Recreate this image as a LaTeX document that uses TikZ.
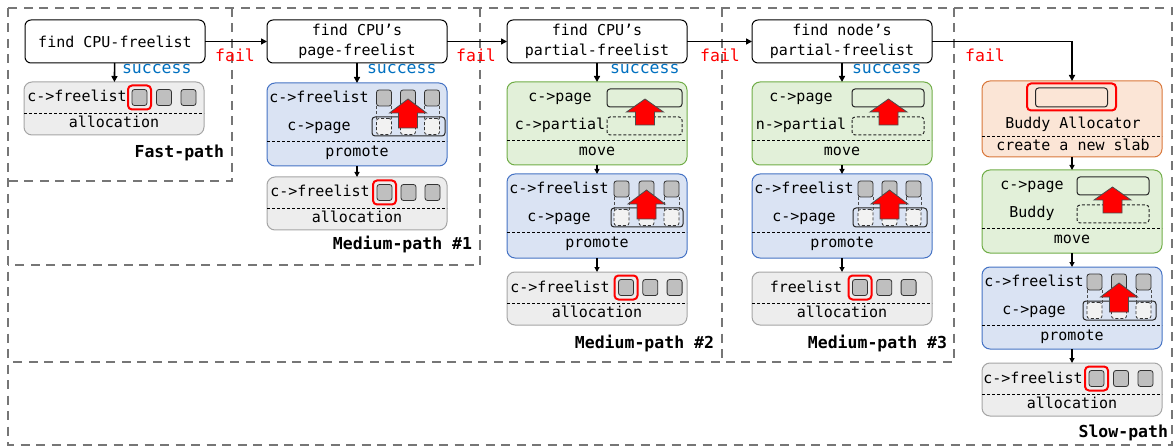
\documentclass[tikz,border=0pt]{standalone}
\usepackage{fontspec}
\usetikzlibrary{arrows.meta}
\newfontfamily\monof{DejaVu Sans Mono}
\newcommand{\mytxt}{\monof\fontsize{15}{20}\selectfont}
\newcommand{\mylbl}{\monof\fontsize{16.5}{20}\selectfont}
\newcommand{\mybold}{\monof\bfseries\fontsize{16.5}{20}\selectfont}
\definecolor{gfill}{HTML}{EDEDED}
\definecolor{gline}{HTML}{A5A5A5}
\definecolor{bfill}{HTML}{DAE3F3}
\definecolor{bline}{HTML}{4472C4}
\definecolor{grfill}{HTML}{E2F0D9}
\definecolor{grline}{HTML}{70AD47}
\definecolor{ofill}{HTML}{FBE5D6}
\definecolor{oline}{HTML}{D9773A}
\definecolor{sqgray}{HTML}{BFBFBF}
\definecolor{sqlight}{HTML}{F2F2F2}
\definecolor{succ}{HTML}{0070C0}
\definecolor{outl}{HTML}{767676}
\tikzset{
 every node/.style={inner sep=0pt, outer sep=0pt, font=\mytxt},
 lab/.style={text height=11pt, text depth=2pt},
 panel/.style={rounded corners=8pt, line width=1pt, anchor=north west, minimum width=180pt},
 graypanel/.style={panel, draw=gline, fill=gfill},
 bluepanel/.style={panel, draw=bline, fill=bfill},
 greenpanel/.style={panel, draw=grline, fill=grfill},
 orangepanel/.style={panel, draw=oline, fill=ofill},
 findbox/.style={panel, draw=black, fill=white, rounded corners=6pt, minimum height=43pt, align=center},
 sepline/.style={dash pattern=on 3pt off 2pt, line width=0.9pt, black},
 sq/.style={draw=black!80, fill=sqgray, rounded corners=2.5pt, minimum width=15pt, minimum height=16pt, line width=0.8pt},
 dsq/.style={draw=black!80, fill=sqlight, dash pattern=on 3pt off 2pt, rounded corners=2.5pt, minimum width=15pt, minimum height=16pt, line width=0.8pt},
 redsq/.style={draw=red, line width=2pt, rounded corners=4pt, minimum width=23pt, minimum height=24pt},
 slab/.style={draw=black!85, rounded corners=3pt, line width=1pt},
 dslab/.style={slab, dash pattern=on 3pt off 2pt},
 colline/.style={black!70, dash pattern=on 3pt off 2pt, line width=0.8pt},
 redarr/.style={fill=red, draw=black!70, line width=0.8pt},
 arr/.style={-{Triangle[length=6pt,width=6pt]}, line width=1.6pt},
 sarr/.style={-{Triangle[length=5pt,width=5pt]}, line width=1.2pt},
 pathlbl/.style={font=\mybold, anchor=east, text height=12pt, text depth=2pt},
 succlbl/.style={font=\mylbl, text=succ, anchor=west, text height=12pt, text depth=2pt},
 faillbl/.style={font=\mylbl, text=red, text height=12pt, text depth=2pt},
 outline/.style={draw=outl, line width=2.2pt, dash pattern=on 9pt off 6.5pt},
}
% red block arrow: cx, tip y, head-base y, bottom y
\newcommand{\myredarrow}[4]{%
 \filldraw[redarr] ({#1-18.5},{#3}) -- ({#1},{#2}) -- ({#1+18.5},{#3}) -- ({#1+9.5},{#3}) -- ({#1+9.5},{#4}) -- ({#1-9.5},{#4}) -- ({#1-9.5},{#3}) -- cycle;}
% promote panel: prefix, L, T, H, c1, spacing, contL, contR
\newcommand{\mypromote}[8]{%
 \node[bluepanel, minimum height=#4pt] (#1-pr) at (#2,#3) {};
 \draw[sepline] (#2,{#3+58}) -- ({#2+180},{#3+58});
 \node[lab] (#1-prl1) at ({#2+52},{#3+15}) {c->freelist};
 \node[lab] (#1-prl2) at ({#2+52},{#3+43}) {c->page};
 \node[lab] (#1-prl3) at ({#2+90},{#3+69}) {promote};
 \draw[slab] (#7,{#3+34}) rectangle (#8,{#3+53});
 \node[dsq] (#1-d1) at ({#5},{#3+43.5}) {};
 \node[dsq] (#1-d2) at ({#5+#6},{#3+43.5}) {};
 \node[dsq] (#1-d3) at ({#5+2*#6},{#3+43.5}) {};
 \foreach \k in {0,1,2}{
   \draw[colline] ({#5+\k*#6-7.5},{#3+23}) -- ({#5+\k*#6-7.5},{#3+36});
   \draw[colline] ({#5+\k*#6+7.5},{#3+23}) -- ({#5+\k*#6+7.5},{#3+36});
 }
 \node[sq] (#1-t1) at ({#5},{#3+15}) {};
 \node[sq] (#1-t2) at ({#5+#6},{#3+15}) {};
 \node[sq] (#1-t3) at ({#5+2*#6},{#3+15}) {};
 \myredarrow{#5+#6}{#3+16}{#3+30}{#3+45}
}
% move panel: prefix, L, T, label1, label2, label cx, rect x1, rect x2, arrow cx
\newcommand{\mymove}[9]{%
 \node[greenpanel, minimum height=83pt] (#1-mv) at (#2,#3) {};
 \draw[sepline] (#2,{#3+58}) -- ({#2+180},{#3+58});
 \node[lab] (#1-mvl1) at ({#6},{#3+15}) {#4};
 \node[lab] (#1-mvl2) at ({#6},{#3+43}) {#5};
 \node[lab] (#1-mvl3) at ({#2+90},{#3+69}) {move};
 \draw[slab] (#7,{#3+7}) rectangle (#8,{#3+25});
 \draw[dslab] (#7,{#3+35}) rectangle (#8,{#3+53});
 \myredarrow{#9}{#3+17}{#3+30}{#3+43}
}
% alloc panel: prefix, L, T, label, label cx, c1, spacing
\newcommand{\myalloc}[7]{%
 \node[graypanel, minimum height=53pt] (#1-al) at (#2,#3) {};
 \draw[sepline] (#2,{#3+31}) -- ({#2+180},{#3+31});
 \node[lab] (#1-all1) at ({#5},{#3+15.5}) {#4};
 \node[lab] (#1-all2) at ({#2+90},{#3+41}) {allocation};
 \node[sq] (#1-a1) at ({#6},{#3+15.5}) {};
 \node[sq] (#1-a2) at ({#6+#7},{#3+15.5}) {};
 \node[sq] (#1-a3) at ({#6+2*#7},{#3+15.5}) {};
 \node[redsq] (#1-ar) at ({#6},{#3+15.5}) {};
}
\begin{document}
\begin{tikzpicture}[x=1pt,y=-1pt]
\useasboundingbox (0,0) rectangle (1174,446);
% dashed region outlines
\draw[outline] (8,8) rectangle (1172,445);
\draw[outline] (232,8) -- (232,181) -- (8,181);
\draw[outline] (480,8) -- (480,265) -- (8,265);
\draw[outline] (722,8) -- (722,362) -- (8,362);
\draw[outline] (954,8) -- (954,362) -- (722,362);

% ---------- Fast path ----------
\node[findbox] (fa-find) at (25,20) {find CPU-freelist};
\myalloc{fa}{24}{82}{c->freelist}{77}{139.5}{24.5}
\node[pathlbl] (fa-path) at (224,153) {Fast-path};

% ---------- Medium path 1 ----------
\node[findbox] (m1-find) at (267,20) {find CPU’s\\page-freelist};
\mypromote{m1}{267}{83}{83}{384}{24}{372}{445}
\myalloc{m1}{267}{177}{c->freelist}{320}{384.5}{24}
\node[pathlbl] (m1-path) at (472,245) {Medium-path \#1};

% ---------- Medium path 2 ----------
\node[findbox] (m2-find) at (507,20) {find CPU’s\\partial-freelist};
\mymove{m2}{507}{82}{c->page}{c->partial}{560}{607}{682}{645}
\mypromote{m2}{507}{174}{84}{621.5}{25}{611}{683}
\myalloc{m2}{507}{272}{c->freelist}{560}{626}{24.3}
\node[pathlbl] (m2-path) at (714,343) {Medium-path \#2};

% ---------- Medium path 3 ----------
\node[findbox] (m3-find) at (752,20) {find node’s\\partial-freelist};
\mymove{m3}{752}{82}{c->page}{n->partial}{801}{852}{924}{888.5}
\mypromote{m3}{752}{174}{84}{865.5}{24}{853}{927}
\myalloc{m3}{752}{272}{freelist}{806}{860}{24.3}
\node[pathlbl] (m3-path) at (947,343) {Medium-path \#3};

% ---------- Slow path ----------
\node[orangepanel, minimum height=76pt] (sl-bud) at (982,81) {};
\draw[sepline] (982,136) -- (1162,136);
\node[redsq, minimum width=89pt, minimum height=27pt] (sl-bred) at (1071.5,97) {};
\node[slab, minimum width=72pt, minimum height=19pt] (sl-bin) at (1071.5,97.5) {};
\node[lab] (sl-bl1) at (1073,124) {Buddy Allocator};
\node[lab] (sl-bl2) at (1073,146.5) {create a new slab};
\mymove{sl}{982}{170}{c->page}{Buddy}{1032}{1077}{1149}{1112.5}
\mypromote{sl}{982}{267}{82}{1094.5}{24.5}{1083}{1156}
\myalloc{sl}{982}{363}{c->freelist}{1033}{1096.5}{24.5}
\node[pathlbl] (sl-path) at (1168,432) {Slow-path};

% ---------- connectors ----------
\draw[arr] (fa-find) -- (fa-al);
\draw[arr] (m1-find) -- (m1-pr);
\draw[arr] (m2-find) -- (m2-mv);
\draw[arr] (m3-find) -- (m3-mv);
\draw[sarr] (m1-pr) -- (m1-al);
\draw[sarr] (m2-mv) -- (m2-pr);
\draw[sarr] (m2-pr) -- (m2-al);
\draw[sarr] (m3-mv) -- (m3-pr);
\draw[sarr] (m3-pr) -- (m3-al);
\draw[sarr] (sl-bud) -- (sl-mv);
\draw[sarr] (sl-mv) -- (sl-pr);
\draw[sarr] (sl-pr) -- (sl-al);
\draw[arr] (fa-find) -- (m1-find);
\draw[arr] (m1-find) -- (m2-find);
\draw[arr] (m2-find) -- (m3-find);
\draw[arr] (m3-find.east) -| (sl-bud.north);

\node[succlbl] (fa-succ) at (122,69) {success};
\node[succlbl] (m1-succ) at (367,69) {success};
\node[succlbl] (m2-succ) at (610,69) {success};
\node[succlbl] (m3-succ) at (852,69) {success};
\node[faillbl] (fa-fail) at (235,57) {fail};
\node[faillbl] (m1-fail) at (476,57) {fail};
\node[faillbl] (m2-fail) at (720,57) {fail};
\node[faillbl] (m3-fail) at (985,57) {fail};
\end{tikzpicture}
\end{document}
